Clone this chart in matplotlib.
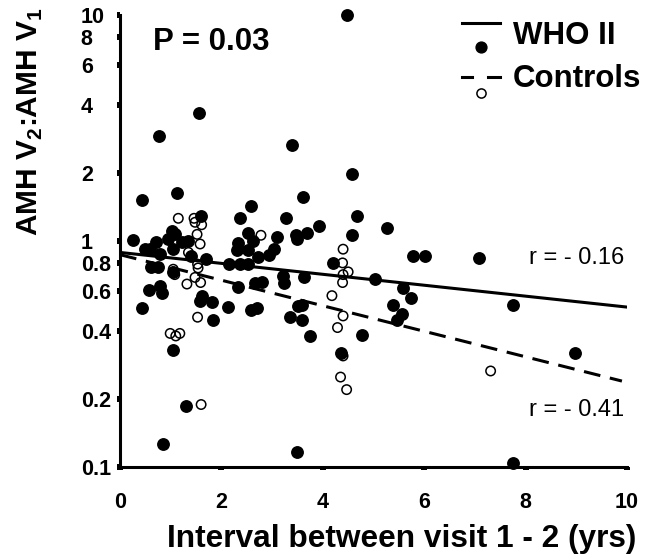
import matplotlib
matplotlib.use("Agg")
import matplotlib.pyplot as plt

plt.rcParams["font.family"] = ["Liberation Sans", "DejaVu Sans"]
plt.rcParams["mathtext.fontset"] = "custom"
plt.rcParams["mathtext.rm"] = "Liberation Sans"
plt.rcParams["mathtext.bf"] = "Liberation Sans:bold"

# WHO II (filled dots): interval in years, AMH ratio V2:V1
who_x = [4.47, 1.56, 0.77, 3.40, 4.58, 0.44, 1.12, 3.61, 2.58, 2.37, 3.27, 1.60,
         4.68, 5.27, 3.93, 3.68, 3.47, 3.50, 3.09, 2.52, 2.63, 2.33, 2.30, 2.52,
         3.04, 2.93, 2.73, 2.15, 2.37, 2.53, 4.58, 0.26, 0.49, 0.59, 0.71, 0.79,
         0.95, 1.02, 1.08, 1.05, 1.22, 1.35, 1.41, 1.70, 0.62, 0.74, 1.05, 0.58,
         0.79, 0.82, 1.61, 1.58, 1.81, 0.44, 2.14, 1.84, 1.05, 2.33, 2.66, 2.81,
         2.58, 2.71, 3.21, 3.23, 3.62, 3.52, 3.58, 3.35, 3.58, 3.75, 1.30, 0.85,
         3.50, 5.77, 6.02, 7.09, 4.21, 5.03, 5.59, 5.73, 5.38, 5.56, 5.47, 7.75,
         4.77, 4.35, 8.97, 7.75]
who_y = [10.0, 3.7, 2.9, 2.65, 1.97, 1.52, 1.63, 1.57, 1.43, 1.26, 1.26, 1.29,
         1.29, 1.14, 1.16, 1.09, 1.06, 1.02, 1.04, 1.09, 1.00, 0.98, 0.91, 0.91,
         0.92, 0.87, 0.85, 0.79, 0.79, 0.79, 1.06, 1.01, 0.92, 0.92, 0.99, 0.88,
         1.02, 1.11, 1.07, 0.92, 0.99, 1.00, 0.86, 0.83, 0.77, 0.77, 0.73, 0.607,
         0.634, 0.586, 0.57, 0.544, 0.535, 0.505, 0.508, 0.446, 0.329, 0.623, 0.65, 0.66,
         0.496, 0.503, 0.70, 0.655, 0.694, 0.517, 0.52, 0.459, 0.446, 0.378, 0.186, 0.127,
         0.117, 0.86, 0.86, 0.84, 0.80, 0.68, 0.617, 0.56, 0.52, 0.475, 0.448, 0.52,
         0.383, 0.318, 0.318, 0.104]

# Controls (open circles)
ctrl_x = [1.15, 1.46, 1.48, 1.61, 1.52, 1.58, 2.78, 1.35, 1.53, 1.05, 1.08, 1.54,
          1.48, 1.32, 1.59, 1.53, 0.99, 1.10, 1.18, 1.60, 4.40, 4.39, 4.50, 4.40,
          4.39, 4.18, 4.40, 4.29, 4.40, 7.31, 4.35, 4.47]
ctrl_y = [1.26, 1.26, 1.21, 1.18, 1.07, 0.97, 1.06, 0.89, 0.79, 0.75, 0.71, 0.76,
          0.69, 0.645, 0.655, 0.46, 0.39, 0.38, 0.39, 0.189, 0.92, 0.80, 0.73, 0.71,
          0.655, 0.573, 0.466, 0.414, 0.31, 0.266, 0.25, 0.22]

# regression lines (end points)
who_fit_x = [0, 10]
who_fit_y = [0.89, 0.51]
ctrl_fit_x = [0, 9.9]
ctrl_fit_y = [0.87, 0.24]

y_ticks = [0.1, 0.2, 0.4, 0.6, 0.8, 1, 2, 4, 6, 8, 10]
y_tick_labels = ["0.1", "0.2", "0.4", "0.6", "0.8", "1", "2", "4", "6", "8", "10"]
x_ticks = [0, 2, 4, 6, 8, 10]

W, H = 645, 558
fig = plt.figure(figsize=(W / 100, H / 100), dpi=100)
ax = fig.add_axes([120 / W, 1 - 467 / H, 507 / W, 452 / H])


def fx(px):
    return px / W


def fy(py):
    return 1 - py / H


ax.set_yscale("log")
ax.set_xlim(0, 10)
ax.set_ylim(0.1, 10)

ax.plot(who_fit_x, who_fit_y, color="black", lw=2.2, zorder=2)
ax.plot(ctrl_fit_x, ctrl_fit_y, color="black", lw=2.2, dashes=(5.5, 3.2), zorder=2)
ax.scatter(who_x, who_y, s=68, color="black", zorder=3, clip_on=False)
ax.scatter(ctrl_x, ctrl_y, s=46, facecolor="none", edgecolor="black",
           linewidth=1.1, zorder=4, clip_on=False)

for side in ["top", "right"]:
    ax.spines[side].set_visible(False)
for side in ["left", "bottom"]:
    ax.spines[side].set_linewidth(2.2)

ax.set_yticks(y_ticks)
ax.set_yticklabels(y_tick_labels)
ax.minorticks_off()
ax.set_xticks(x_ticks)
ax.tick_params(axis="both", direction="out", length=2.2, width=4.3,
               labelsize=15.5)
ax.tick_params(axis="x", pad=16)
ax.tick_params(axis="y", pad=26)
for lab in ax.get_yticklabels():
    lab.set_ha("left")
    lab.set_fontweight("bold")
for lab in ax.get_xticklabels():
    lab.set_fontweight("bold")

# texts
fig.text(fx(30), fy(122), r"AMH V$_{\mathbf{2}}$:AMH V$_{\mathbf{1}}$",
         rotation=90, ha="center", va="center", fontsize=21.5, fontweight="bold")
fig.text(fx(167), fy(547), "Interval between visit 1 - 2 (yrs)", ha="left",
         va="baseline", fontsize=22.8, fontweight="bold")
fig.text(fx(153), fy(42), "P = 0.03", ha="left", va="center",
         fontsize=22.5, fontweight="bold")
fig.text(fx(624), fy(258), "r = - 0.16", ha="right", va="center", fontsize=17)
fig.text(fx(624), fy(410), "r = - 0.41", ha="right", va="center", fontsize=17)

# legend drawn by hand: line above, marker below
fig.add_artist(plt.Line2D([fx(462), fx(500)], [fy(23), fy(23)], color="black", lw=2.2))
fig.add_artist(plt.Line2D([fx(481)], [fy(47)], marker="o", markersize=7.8,
                          color="black", lw=0))
fig.add_artist(plt.Line2D([fx(462), fx(472)], [fy(77), fy(77)], color="black", lw=2.2))
fig.add_artist(plt.Line2D([fx(488), fx(500)], [fy(77), fy(77)], color="black", lw=2.2))
fig.add_artist(plt.Line2D([fx(481)], [fy(93)], marker="o", markersize=6.6,
                          markerfacecolor="white", markeredgecolor="black",
                          markeredgewidth=1.1, lw=0))
fig.text(fx(513), fy(36), "WHO II", ha="left", va="center", fontsize=22.5,
         fontweight="bold")
fig.text(fx(513), fy(79), "Controls", ha="left", va="center", fontsize=22.5,
         fontweight="bold")

fig.savefig("out.png", dpi=100)
